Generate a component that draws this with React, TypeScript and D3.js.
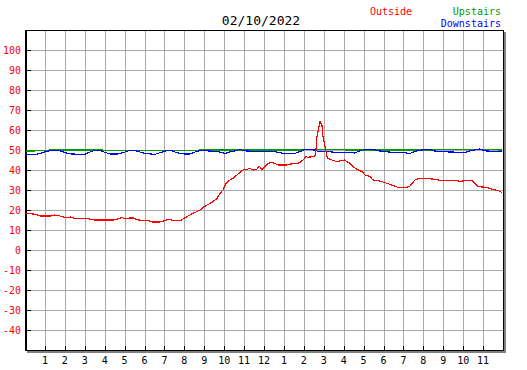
import { useEffect, useRef } from "react";
import * as d3 from "d3";

const title = "02/10/2022";
const yTicks = [-40, -30, -20, -10, 0, 10, 20, 30, 40, 50, 60, 70, 80, 90, 100];
const hourTicks = d3.range(1, 24);
const hourLabels = ["1", "2", "3", "4", "5", "6", "7", "8", "9", "10", "11", "12", "1", "2", "3", "4", "5", "6", "7", "8", "9", "10", "11"];

// Outside (hours since midnight, deg F)
const outsideHours = [0.05, 0.25, 0.5, 0.8, 1.26, 1.5, 1.76, 1.91, 2.16, 2.31, 2.51, 3.01, 3.26, 3.51, 4.02, 4.42, 4.67, 4.87, 5.02, 5.27, 5.47, 5.62, 5.87, 6.17, 6.38, 6.78, 7.03, 7.23, 7.43, 7.83, 7.98, 8.13, 8.28, 8.43, 8.63, 8.79, 8.94, 9.14, 9.29, 9.44, 9.64, 9.79, 9.94, 10.09, 10.29, 10.44, 10.64, 10.79, 10.94, 11.14, 11.29, 11.45, 11.65, 11.75, 11.9, 12.05, 12.2, 12.4, 12.55, 12.7, 13.15, 13.35, 13.65, 13.8, 13.96, 14.11, 14.21, 14.56, 14.61, 14.66, 14.76, 14.81, 14.91, 14.96, 15.06, 15.16, 15.21, 15.41, 15.66, 15.91, 16.06, 16.16, 16.31, 16.47, 16.67, 16.92, 17.07, 17.32, 17.47, 17.82, 18.07, 18.42, 18.73, 19.18, 19.33, 19.43, 19.58, 19.78, 20.23, 20.58, 20.93, 21.69, 21.84, 22.09, 22.44, 22.59, 22.74, 23.19, 23.49, 23.75, 23.95];
const outsideTemps = [18.3, 18.3, 17.8, 17.0, 17.0, 17.5, 17.0, 16.5, 16.2, 16.5, 15.7, 15.7, 15.5, 15.0, 15.0, 15.0, 15.5, 16.2, 15.5, 16.0, 16.0, 15.2, 14.7, 14.7, 14.0, 14.0, 14.7, 15.5, 14.8, 14.8, 15.8, 16.7, 17.5, 18.3, 19.2, 20.0, 21.3, 22.5, 23.3, 24.2, 25.8, 28.3, 30.0, 33.3, 35.0, 35.8, 37.5, 38.7, 40.0, 40.3, 40.8, 40.0, 40.5, 42.0, 40.3, 41.7, 43.3, 43.8, 43.3, 42.5, 42.5, 43.0, 43.3, 43.7, 45.0, 46.7, 46.3, 47.0, 50.0, 56.7, 61.7, 64.2, 62.5, 56.7, 51.7, 47.0, 45.8, 45.0, 44.2, 44.7, 45.0, 44.2, 43.3, 41.7, 40.3, 39.2, 37.5, 36.7, 35.0, 34.5, 33.7, 32.5, 31.3, 31.3, 32.0, 33.3, 35.0, 35.8, 35.8, 35.3, 34.7, 34.7, 34.2, 34.7, 34.7, 33.3, 31.7, 31.3, 30.3, 29.7, 28.8];

// Upstairs
const upstairsHours = [0.05, 1.0, 1.26, 3.5, 5.0, 8.0, 9.0, 12.0, 14.0, 14.1, 16.0, 16.1, 20.0, 22.5, 23.0, 23.95];
const upstairsTemps = [49.5, 49.6, 50.0, 50.0, 49.8, 49.8, 50.0, 50.0, 50.0, 50.4, 50.4, 50.0, 50.0, 50.2, 50.2, 50.0];

// Downstairs
const downstairsHours = [0.05, 0.5, 0.75, 1.0, 1.26, 1.76, 2.0, 2.36, 3.01, 3.26, 3.51, 3.77, 4.02, 4.27, 4.67, 5.02, 5.27, 5.52, 5.77, 6.02, 6.53, 6.78, 7.18, 7.38, 7.53, 7.78, 8.03, 8.28, 8.53, 8.79, 9.29, 9.79, 10.04, 10.29, 10.64, 10.79, 11.04, 11.55, 12.05, 12.55, 12.8, 13.05, 13.55, 13.8, 14.06, 14.56, 14.71, 15.31, 15.56, 16.31, 16.57, 16.72, 17.07, 17.47, 17.72, 18.07, 18.57, 18.98, 19.33, 19.58, 19.93, 20.33, 20.58, 20.93, 21.34, 22.09, 22.34, 22.59, 22.84, 23.09, 23.59, 23.95];
const downstairsTemps = [47.7, 47.7, 48.3, 49.0, 49.8, 49.6, 48.7, 48.0, 47.8, 49.0, 49.8, 49.7, 48.8, 48.0, 48.0, 49.0, 49.8, 49.7, 49.0, 48.3, 47.8, 48.7, 49.8, 49.7, 49.0, 48.3, 48.0, 48.0, 49.0, 49.8, 49.5, 49.0, 48.3, 49.0, 49.8, 50.3, 49.6, 49.2, 49.2, 49.2, 48.6, 48.3, 48.3, 49.2, 50.3, 50.0, 49.2, 49.2, 48.7, 48.7, 48.5, 49.2, 50.3, 50.3, 49.6, 49.2, 48.7, 48.7, 48.3, 49.3, 50.0, 50.3, 49.5, 49.2, 49.0, 48.8, 49.5, 50.0, 50.5, 49.6, 49.2, 49.2];

const series = [
  { name: "Upstairs", color: "#009900", hours: upstairsHours, temps: upstairsTemps },
  { name: "Downstairs", color: "#0000ff", hours: downstairsHours, temps: downstairsTemps },
  { name: "Outside", color: "#ff0000", hours: outsideHours, temps: outsideTemps },
];

const font = "'DejaVu Sans Mono', monospace";

const App = () => {
  const ref = useRef(null);

  useEffect(() => {
    const width = 527;
    const height = 370;
    const left = 25;
    const right = 503;
    const top = 30;
    const bottom = 350;

    const svg = d3
      .select(ref.current)
      .html("")
      .append("svg")
      .attr("width", width)
      .attr("height", height)
      .style("position", "fixed")
      .style("left", 0)
      .style("top", 0)
      .style("background", "#fff");

    const x = d3.scaleLinear().domain([0, 24]).range([left, right]);
    const y = d3.scaleLinear().domain([-50, 110]).range([bottom, top]);
    const px = (v: number) => Math.round(v) + 0.5;

    svg.append("rect").attr("x", left).attr("y", top).attr("width", right - left).attr("height", bottom - top).attr("fill", "#fff");

    // grid
    const grid = svg.append("g").attr("stroke", "#a8a8a8").attr("shape-rendering", "crispEdges");
    grid
      .selectAll("line.h")
      .data(yTicks)
      .enter()
      .append("line")
      .attr("x1", left)
      .attr("x2", right)
      .attr("y1", (d) => px(y(d)))
      .attr("y2", (d) => px(y(d)));
    grid
      .selectAll("line.v")
      .data(hourTicks)
      .enter()
      .append("line")
      .attr("x1", (d) => px(x(d)))
      .attr("x2", (d) => px(x(d)))
      .attr("y1", top)
      .attr("y2", bottom);

    // shadow
    svg.append("rect").attr("x", right + 1).attr("y", top + 2).attr("width", 2).attr("height", bottom - top + 1).attr("fill", "#808080");
    svg.append("rect").attr("x", left + 2).attr("y", bottom + 1).attr("width", right - left + 1).attr("height", 2).attr("fill", "#808080");

    // border
    const border = svg.append("g").attr("stroke", "#000").attr("shape-rendering", "crispEdges");
    border.append("line").attr("x1", left).attr("x2", right + 1).attr("y1", top + 0.5).attr("y2", top + 0.5);
    border.append("line").attr("x1", right + 0.5).attr("x2", right + 0.5).attr("y1", top).attr("y2", bottom + 1);
    border.append("line").attr("x1", left).attr("x2", right + 1).attr("y1", bottom + 0.5).attr("y2", bottom + 0.5);
    border.append("line").attr("x1", left + 1).attr("x2", left + 1).attr("y1", top).attr("y2", bottom + 1).attr("stroke-width", 2);

    // ticks
    border
      .selectAll("line.yt")
      .data(yTicks)
      .enter()
      .append("line")
      .attr("x1", left + 2)
      .attr("x2", left + 6)
      .attr("y1", (d) => px(y(d)))
      .attr("y2", (d) => px(y(d)));
    border
      .selectAll("line.xt")
      .data(hourTicks)
      .enter()
      .append("line")
      .attr("x1", (d) => px(x(d)))
      .attr("x2", (d) => px(x(d)))
      .attr("y1", bottom)
      .attr("y2", bottom - 4);

    // series
    series.forEach((s) => {
      const pts = s.hours.map((h, i) => [h, s.temps[i]] as [number, number]);
      const line = d3
        .line<[number, number]>()
        .x((d) => x(d[0]))
        .y((d) => y(d[1]));
      svg
        .append("path")
        .attr("d", line(pts))
        .attr("fill", "none")
        .attr("stroke", s.color)
        .attr("stroke-width", 1.2)
        .attr("stroke-linejoin", "round")
        .attr("shape-rendering", "crispEdges");
    });

    // y labels
    svg
      .append("g")
      .selectAll("text")
      .data(yTicks)
      .enter()
      .append("text")
      .attr("x", 21)
      .attr("y", (d) => y(d) + 4)
      .attr("text-anchor", "end")
      .attr("fill", "#ff0000")
      .style("font", `10px ${font}`)
      .text((d) => d);

    // x labels
    svg
      .append("g")
      .selectAll("text")
      .data(hourTicks)
      .enter()
      .append("text")
      .attr("x", (d) => x(d))
      .attr("y", 364)
      .attr("text-anchor", "middle")
      .attr("fill", "#000")
      .style("font", `10px ${font}`)
      .text((d, i) => hourLabels[i]);

    // title and legend
    svg.append("text").attr("x", 261).attr("y", 25).attr("text-anchor", "middle").style("font", `13px ${font}`).text(title);
    svg.append("text").attr("x", 370).attr("y", 15).attr("fill", "#ff0000").style("font", `10px ${font}`).text("Outside");
    svg.append("text").attr("x", 501).attr("y", 15).attr("text-anchor", "end").attr("fill", "#009900").style("font", `10px ${font}`).text("Upstairs");
    svg.append("text").attr("x", 501).attr("y", 27).attr("text-anchor", "end").attr("fill", "#0000ff").style("font", `10px ${font}`).text("Downstairs");
  }, []);

  return <div ref={ref} />;
};

export default App;
